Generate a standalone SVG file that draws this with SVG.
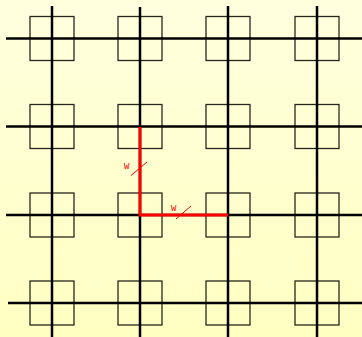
<svg xmlns="http://www.w3.org/2000/svg" width="362" height="337" viewBox="0 0 362 337">
<defs>
<linearGradient id="bg" x1="0" y1="0" x2="0" y2="1">
<stop offset="0" stop-color="#FFFFDE"/>
<stop offset="1" stop-color="#FFFFC2"/>
</linearGradient>
<style>
.grid{stroke:#000;stroke-width:2.5;fill:none}
.sq{stroke:#000;stroke-opacity:0.85;stroke-width:1.3;fill:none}
.red{stroke:#F00;stroke-width:3;fill:none}
.tick{stroke:#F00;stroke-width:1;fill:none}
.lbl{font-family:"Liberation Mono",monospace;font-size:9px;fill:#F00}
</style>
</defs>
<rect width="362" height="337" fill="url(#bg)"/>
<g id="nodes">
<g id="n11"><rect class="sq" x="30" y="16.5" width="44" height="44"/></g>
<g id="n12"><rect class="sq" x="118" y="16.5" width="44" height="44"/></g>
<g id="n13"><rect class="sq" x="206" y="16.5" width="44" height="44"/></g>
<g id="n14"><rect class="sq" x="295" y="16.5" width="44" height="44"/></g>
<g id="n21"><rect class="sq" x="30" y="104.5" width="44" height="44"/></g>
<g id="n22"><rect class="sq" x="118" y="104.5" width="44" height="44"/></g>
<g id="n23"><rect class="sq" x="206" y="104.5" width="44" height="44"/></g>
<g id="n24"><rect class="sq" x="295" y="104.5" width="44" height="44"/></g>
<g id="n31"><rect class="sq" x="30" y="193" width="44" height="44"/></g>
<g id="n32"><rect class="sq" x="118" y="193" width="44" height="44"/></g>
<g id="n33"><rect class="sq" x="206" y="193" width="44" height="44"/></g>
<g id="n34"><rect class="sq" x="295" y="193" width="44" height="44"/></g>
<g id="n41"><rect class="sq" x="30" y="281" width="44" height="44"/></g>
<g id="n42"><rect class="sq" x="118" y="281" width="44" height="44"/></g>
<g id="n43"><rect class="sq" x="206" y="281" width="44" height="44"/></g>
<g id="n44"><rect class="sq" x="295" y="281" width="44" height="44"/></g>
</g>
<g id="connectors">
<line class="grid" x1="52" y1="6" x2="52" y2="337"/>
<line class="grid" x1="140" y1="7" x2="140" y2="337"/>
<line class="grid" x1="228" y1="6" x2="228" y2="337"/>
<line class="grid" x1="317" y1="6" x2="317" y2="337"/>
<line class="grid" x1="6" y1="38.5" x2="362" y2="38.5"/>
<line class="grid" x1="6" y1="126.5" x2="362" y2="126.5"/>
<line class="grid" x1="6" y1="215" x2="362" y2="215"/>
<line class="grid" x1="8" y1="303" x2="362" y2="303"/>
<path class="red" d="M140,127 V215 H228"/>
<line class="tick" x1="131" y1="175.5" x2="147" y2="162"/>
<line class="tick" x1="176" y1="219" x2="191" y2="206"/>
<text class="lbl" x="124" y="169">W</text>
<text class="lbl" x="171" y="211">W</text>
</g>
</svg>
